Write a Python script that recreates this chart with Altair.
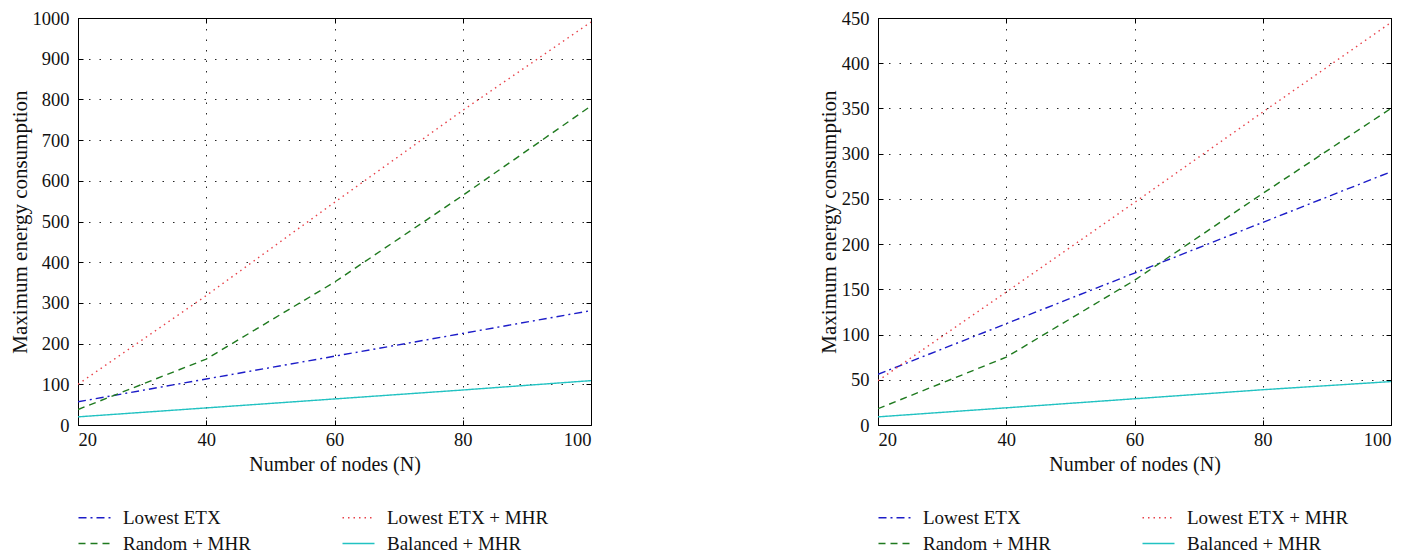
import altair as alt
import pandas as pd

nodes = [20, 40, 60, 80, 100]
# legend fills column by column, so this order gives rows:
# "Lowest ETX | Lowest ETX + MHR" and "Random + MHR | Balanced + MHR"
series_names = ["Lowest ETX", "Random + MHR", "Lowest ETX + MHR", "Balanced + MHR"]

# Left panel
left_lowest_etx = [57, 113, 169, 225, 281]
left_random_mhr = [38, 162, 351, 564, 784]
left_lowest_etx_mhr = [100, 318, 547, 773, 990]
left_balanced_mhr = [20, 42, 64, 86, 109]

# Right panel
right_lowest_etx = [56, 112, 168, 224, 280]
right_random_mhr = [18, 75, 160, 256, 350]
right_lowest_etx_mhr = [49, 147, 246, 346, 445]
right_balanced_mhr = [9, 19, 29, 39, 48]

colors = ["#1c1cc8", "#1f7a1f", "#e8424a", "#22c2c2"]
dashes = [[8, 4, 2, 4], [7, 5], [1.5, 4], [1, 0]]

FONT = "Liberation Serif"
TICK = 5


def make_df(vals):
    rows = []
    for name, ys in zip(series_names, vals):
        for x, y in zip(nodes, ys):
            rows.append({"N": x, "E": y, "series": name})
    return pd.DataFrame(rows)


def panel(df, ymax, ystep, width):
    yvals = list(range(0, ymax + 1, ystep))
    xscale = alt.Scale(domain=[20, 100], nice=False)
    yscale = alt.Scale(domain=[0, ymax], nice=False)
    lines = (
        alt.Chart(df)
        .mark_line(strokeWidth=1.4, clip=True)
        .encode(
            x=alt.X(
                "N:Q",
                scale=xscale,
                axis=alt.Axis(values=nodes, title="Number of nodes (N)", format="d",
                              ticks=True, tickSize=TICK, offset=-TICK, labelPadding=5),
            ),
            y=alt.Y(
                "E:Q",
                scale=yscale,
                axis=alt.Axis(values=yvals, format="d", title="Maximum energy consumption",
                              ticks=True, tickSize=TICK, offset=-TICK, labelPadding=9),
            ),
            color=alt.Color(
                "series:N",
                scale=alt.Scale(domain=series_names, range=colors),
                sort=series_names,
                legend=alt.Legend(
                    title=None,
                    orient="none",
                    legendX=7,
                    legendY=490,
                    columns=2,
                    columnPadding=88,
                    rowPadding=6,
                    symbolType="M-4,0H4",
                    symbolSize=64,
                    symbolStrokeWidth=1.4,
                    labelFont=FONT,
                    labelFontSize=19,
                    labelColor="#111",
                    labelOffset=19,
                    labelLimit=300,
                ),
            ),
            strokeDash=alt.StrokeDash(
                "series:N",
                scale=alt.Scale(domain=series_names, range=dashes),
                sort=series_names,
                legend=None,
            ),
        )
    )
    # invisible copy that only carries the inward ticks on the top and right edges
    ghost = (
        alt.Chart(df)
        .mark_point(opacity=0)
        .encode(
            x=alt.X("N:Q", scale=xscale,
                    axis=alt.Axis(values=nodes, orient="top", labels=False, title=None,
                                  grid=False, ticks=True, tickSize=TICK, offset=-TICK)),
            y=alt.Y("E:Q", scale=yscale,
                    axis=alt.Axis(values=yvals, orient="right", labels=False, title=None,
                                  grid=False, ticks=True, tickSize=TICK, offset=-TICK)),
        )
    )
    return (
        alt.layer(lines, ghost)
        .resolve_axis(x="independent", y="independent")
        .properties(width=width, height=407)
    )


left = panel(make_df([left_lowest_etx, left_random_mhr, left_lowest_etx_mhr, left_balanced_mhr]),
             1000, 100, 513)
right = panel(make_df([right_lowest_etx, right_random_mhr, right_lowest_etx_mhr, right_balanced_mhr]),
              450, 50, 513)

chart = (
    alt.hconcat(left, right, spacing=222)
    .resolve_scale(color="independent", strokeDash="independent")
    .resolve_legend(color="independent")
    .configure(padding={"left": 0, "top": 0, "right": 0, "bottom": 0})
    .configure_view(stroke="black", strokeWidth=1)
    .configure_axis(
        grid=True,
        gridColor="black",
        gridDash=[1.5, 9],
        gridOpacity=0.85,
        gridWidth=1,
        domain=False,
        tickColor="black",
        tickWidth=1,
        labelFont=FONT,
        labelFontSize=18.5,
        labelColor="#111",
        titleFont=FONT,
        titleFontSize=20,
        titleFontWeight="normal",
        titleColor="#111",
    )
    .configure_axisY(titlePadding=2, titleFontSize=21)
    .configure_axisX(titlePadding=6)
)

chart.save("out.html", embed_options={"renderer": "svg", "actions": False})
